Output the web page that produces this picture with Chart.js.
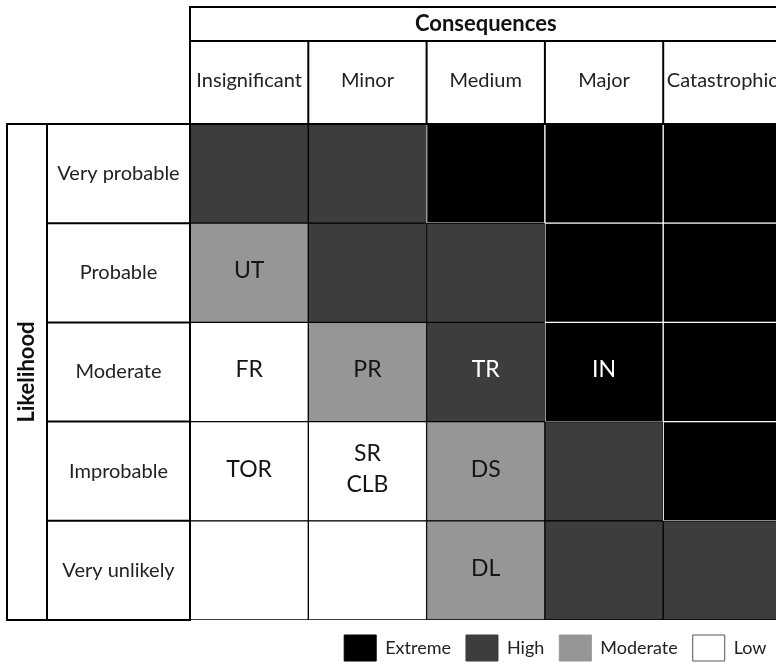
<!DOCTYPE html>
<html>
<head>
<meta charset="utf-8">
<script src="https://cdn.jsdelivr.net/npm/chart.js@4/dist/chart.umd.min.js"></script>
<style>
  html, body { margin: 0; padding: 0; background: #fff; overflow: hidden; }
  #wrap { position: relative; width: 790px; height: 671px; }
  #c { display: block; }
</style>
</head>
<body>
<div id="wrap"><canvas id="c" width="790" height="671"></canvas></div>
<script>
// ---------- DATA ----------
const consequences = ['Insignificant', 'Minor', 'Medium', 'Major', 'Catastrophic'];
const likelihoods = ['Very probable', 'Probable', 'Moderate', 'Improbable', 'Very unlikely']; // top to bottom
const riskLevels = ['Extreme', 'High', 'Moderate', 'Low'];

// risk level of each cell, one array per likelihood row (columns follow consequences)
const riskVeryProbable = ['High', 'High', 'Extreme', 'Extreme', 'Extreme'];
const riskProbable     = ['Moderate', 'High', 'High', 'Extreme', 'Extreme'];
const riskModerate     = ['Low', 'Moderate', 'High', 'Extreme', 'Extreme'];
const riskImprobable   = ['Low', 'Low', 'Moderate', 'High', 'Extreme'];
const riskVeryUnlikely = ['Low', 'Low', 'Moderate', 'High', 'High'];

// each cell occupies one unit of the likelihood axis
const cellSpan = [1, 1, 1, 1, 1];

// hazard codes placed in cells
const hazardConsequence = ['Insignificant', 'Insignificant', 'Minor', 'Medium', 'Major', 'Insignificant', 'Minor', 'Medium', 'Medium'];
const hazardLikelihood  = ['Probable', 'Moderate', 'Moderate', 'Moderate', 'Moderate', 'Improbable', 'Improbable', 'Improbable', 'Very unlikely'];
const hazardCodes       = [['UT'], ['FR'], ['PR'], ['TR'], ['IN'], ['TOR'], ['SR', 'CLB'], ['DS'], ['DL']];

// ---------- STYLE ----------
const riskRows = [riskVeryProbable, riskProbable, riskModerate, riskImprobable, riskVeryUnlikely];
const FILL = { Extreme: '#000000', High: '#3d3d3d', Moderate: '#969696', Low: '#ffffff' };
const EDGE = { Extreme: '#ffffff', High: '#000000', Moderate: '#000000', Low: '#000000' };
const FONT = 'Lato';
const TICK_SIZE = 20;
const TICK_FONT = { family: FONT, size: TICK_SIZE };
const FRAME = { top: 7, headerSplit: 41, left: 7, titleSplit: 47, width: 2 };

// centre the row labels inside their column
const mctx = document.createElement('canvas').getContext('2d');
mctx.font = TICK_SIZE + 'px ' + FONT;
const widestRow = Math.max(...likelihoods.map(t => mctx.measureText(t).width));

const datasets = riskRows.map((row, r) => ({
  label: likelihoods[r],
  data: cellSpan,
  backgroundColor: row.map(l => FILL[l]),
  borderColor: row.map(l => EDGE[l]),
  borderWidth: 1,
  borderSkipped: false,
  categoryPercentage: 1,
  barPercentage: 1
})).reverse(); // first dataset = bottom row

const framePlugin = {
  id: 'tableFrame',
  afterDraw(chart) {
    const { ctx, chartArea: { left, right, top, bottom }, scales: { x, yl } } = chart;
    ctx.save();
    ctx.strokeStyle = '#000';
    ctx.lineWidth = FRAME.width;
    const line = (x1, y1, x2, y2) => { ctx.beginPath(); ctx.moveTo(x1, y1); ctx.lineTo(x2, y2); ctx.stroke(); };
    // header
    ctx.strokeRect(left, FRAME.top, right - left, top - FRAME.top);
    line(left, FRAME.headerSplit, right, FRAME.headerSplit);
    for (let i = 1; i < consequences.length; i++) {
      const bx = (x.getPixelForValue(i - 1) + x.getPixelForValue(i)) / 2;
      line(bx, FRAME.headerSplit, bx, top);
    }
    // left side
    ctx.strokeRect(FRAME.left, top, left - FRAME.left, bottom - top);
    line(FRAME.titleSplit, top, FRAME.titleSplit, bottom);
    for (let i = 1; i < likelihoods.length; i++) {
      const by = (yl.getPixelForValue(i - 1) + yl.getPixelForValue(i)) / 2;
      line(FRAME.titleSplit, by, left, by);
    }
    ctx.restore();
  }
};

const codesPlugin = {
  id: 'hazardCodes',
  afterDatasetsDraw(chart) {
    const { ctx, scales: { x, yl } } = chart;
    ctx.save();
    ctx.font = '23px ' + FONT;
    ctx.textAlign = 'center';
    ctx.textBaseline = 'middle';
    const lh = 31;
    hazardCodes.forEach((codes, i) => {
      const xi = consequences.indexOf(hazardConsequence[i]);
      const yi = likelihoods.indexOf(hazardLikelihood[i]);
      const level = riskRows[yi][xi];
      ctx.fillStyle = (level === 'Extreme' || level === 'High') ? '#ffffff' : '#151515';
      const cx = x.getPixelForValue(xi);
      const cy = yl.getPixelForValue(yi) - 2;
      codes.forEach((t, k) => ctx.fillText(t, cx, cy + (k - (codes.length - 1) / 2) * lh));
    });
    ctx.restore();
  }
};

new Chart(document.getElementById('c'), {
  type: 'bar',
  data: { labels: consequences, datasets },
  options: {
    responsive: false,
    maintainAspectRatio: false,
    animation: false,
    events: [],
    layout: { padding: { top: 0, left: 7, right: 8.5, bottom: 0 } },
    scales: {
      x: {
        position: 'top',
        stacked: true,
        grid: { display: false, drawTicks: false },
        border: { display: false },
        ticks: { color: '#222', font: TICK_FONT, padding: 31, maxRotation: 0, autoSkip: false },
        title: { display: true, text: 'Consequences', color: '#111', font: { family: FONT, size: 22, weight: 'bold' }, padding: { top: 11, bottom: 0 } },
        afterFit: s => { s.height = 124; s.paddingLeft = 0; s.paddingRight = 0; }
      },
      y: { stacked: true, display: false, min: 0, max: 5 },
      yl: {
        type: 'category',
        labels: likelihoods,
        position: 'left',
        offset: true,
        grid: { display: false, drawTicks: false },
        border: { display: false },
        ticks: { color: '#222', font: TICK_FONT, crossAlign: 'center', padding: 71.5 - widestRow / 2 },
        title: { display: true, text: 'Likelihood', color: '#111', font: { family: FONT, size: 22, weight: 'bold' }, padding: { top: 7, bottom: 0 } },
        afterFit: s => { s.width = 183; s.paddingTop = 0; s.paddingBottom = 0; }
      }
    },
    plugins: {
      tooltip: { enabled: false },
      legend: {
        position: 'bottom',
        align: 'end',
        labels: {
          boxWidth: 32,
          boxHeight: 26,
          padding: 15,
          color: '#222',
          font: { family: FONT, size: 18 },
          generateLabels: () => riskLevels.map(l => ({
            text: l,
            fillStyle: FILL[l],
            strokeStyle: l === 'Low' ? '#555555' : FILL[l],
            lineWidth: 1,
            hidden: false,
            fontColor: '#222'
          }))
        }
      }
    }
  },
  plugins: [framePlugin, codesPlugin]
});
</script>
</body>
</html>
